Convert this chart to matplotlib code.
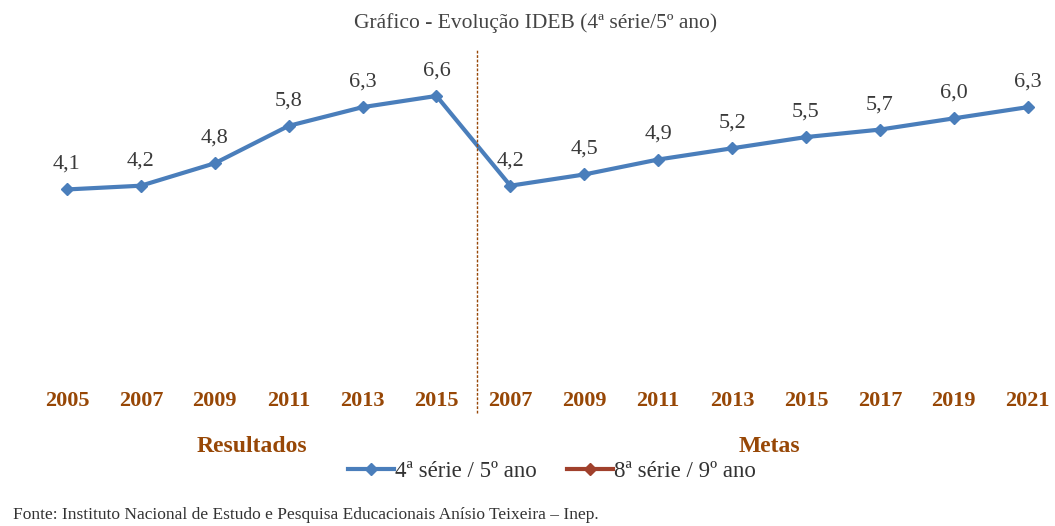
import numpy as np
import matplotlib.pyplot as plt
from matplotlib.lines import Line2D
import matplotlib.transforms as mtransforms

plt.rcParams['font.family'] = ['Liberation Serif', 'DejaVu Serif']

# IDEB 4a serie / 5o ano: resultados observados e metas projetadas
anos_resultados = ['2005', '2007', '2009', '2011', '2013', '2015']
ideb_resultados = [4.1, 4.2, 4.8, 5.8, 6.3, 6.6]
anos_metas = ['2007', '2009', '2011', '2013', '2015', '2017', '2019', '2021']
ideb_metas = [4.2, 4.5, 4.9, 5.2, 5.5, 5.7, 6.0, 6.3]

anos = anos_resultados + anos_metas
valores = ideb_resultados + ideb_metas
x = np.arange(len(anos))

azul = '#4A7EBB'
marrom = '#974706'
vermelho = '#A0402C'

fig = plt.figure(figsize=(10.55, 5.26), dpi=100)
ax = fig.add_axes([0, 0.3483, 1, 0.5333])
ax.set_xlim(-0.9066, 13.370)
ax.set_ylim(0, 7.5)

ax.plot(x, valores, color=azul, lw=3, marker='D', ms=6, mfc=azul, mec=azul)
for xi, v in zip(x, valores):
    ax.annotate(f'{v:.1f}'.replace('.', ','), (xi, v), xytext=(0, 18),
                textcoords='offset points', ha='center', va='center',
                fontsize=16, color='#3a3a3a')

# separador entre resultados e metas
ax.axvline(len(anos_resultados) - 0.45, ymin=-0.25, ymax=1.047, clip_on=False,
           color=marrom, lw=1, ls=(0, (2, 1.2)))

ax.set_xticks(x)
ax.set_xticklabels(anos, fontsize=16, fontweight='bold', color=marrom)
ax.tick_params(axis='x', length=0, pad=35)
ax.set_yticks([])
for s in ax.spines.values():
    s.set_visible(False)

trans = mtransforms.blended_transform_factory(ax.transData, fig.transFigure)
ax.text(np.mean(x[:len(anos_resultados)]), 1 - 446 / 526, 'Resultados',
        transform=trans, ha='center', va='center', fontsize=17,
        fontweight='bold', color=marrom)
ax.text(np.mean(x[len(anos_resultados):]), 1 - 446 / 526, 'Metas',
        transform=trans, ha='center', va='center', fontsize=17,
        fontweight='bold', color=marrom)

fig.text(536 / 1055, 1 - 23 / 526, 'Gráfico - Evolução IDEB (4ª série/5º ano)',
         ha='center', va='center', fontsize=15.5, color='#444444')

handles = [Line2D([], [], color=azul, lw=3, marker='D', ms=6),
           Line2D([], [], color=vermelho, lw=3, marker='D', ms=6)]
fig.legend(handles, ['4ª série / 5º ano', '8ª série / 9º ano'], ncol=2,
           loc='center', bbox_to_anchor=(552 / 1055, 1 - 471 / 526),
           frameon=False, fontsize=16.5, handlelength=2.0, handletextpad=0.05,
           columnspacing=1.3, labelcolor='#333333')

fig.text(13 / 1055, 1 - 515 / 526,
         'Fonte: Instituto Nacional de Estudo e Pesquisa Educacionais Anísio Teixeira – Inep.',
         ha='left', va='center', fontsize=12.5, color='#333333')

fig.savefig('out.png', dpi=100)
